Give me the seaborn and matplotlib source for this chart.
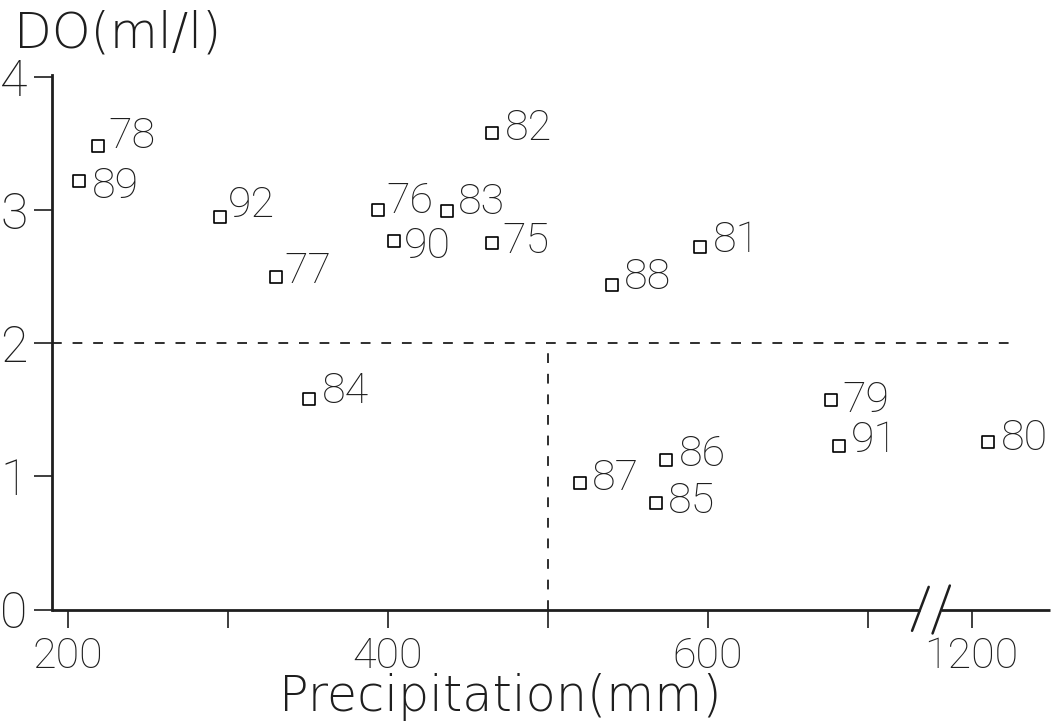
import numpy as np
import pandas as pd
import matplotlib
matplotlib.use("Agg")
import matplotlib.pyplot as plt
import seaborn as sns

# ---- data ----
years = ["78", "89", "92", "77", "76", "90", "83", "82", "75", "88", "81",
         "84", "87", "86", "85", "79", "91", "80"]
precip = [219, 207, 295, 330, 394, 404, 437, 465, 465, 540, 595,
          351, 520, 574, 568, 677, 682, 1210]
do_vals = [3.48, 3.22, 2.95, 2.50, 3.00, 2.77, 2.99, 3.58, 2.75, 2.44, 2.72,
           1.58, 0.95, 1.12, 0.80, 1.57, 1.23, 1.26]
x_ticks = [200, 300, 400, 500, 600, 700, 1200]
x_ticklabels = ["200", "", "400", "", "600", "", "1200"]
y_ticks = [0, 1, 2, 3, 4]
do_threshold = 2
precip_threshold = 500

# label placement relative to each marker (pixels right, pixels down)
label_dx = [10, 13, 8, 9, 8, 10, 11, 13, 11, 12, 13, 13, 12, 13, 12, 12, 12, 13]
label_dy = [2, 17, 0, 6, 3, 17, 3, 7, 10, 4, 5, 4, 7, 6, 10, 12, 6, 8]

df = pd.DataFrame({"year": years, "precip": precip, "do": do_vals})

# broken x axis: 738..1174 compressed to one unit
BRK_D = [0, 738, 1174, 3000]
BRK_T = [0, 738, 739, 2565]
def fwd(x):
    return np.interp(x, BRK_D, BRK_T)
def inv(x):
    return np.interp(x, BRK_T, BRK_D)

sns.set_style("ticks")
plt.rcParams["font.family"] = ["Roboto", "DejaVu Sans"]
plt.rcParams["font.weight"] = "light"
INK = "#1e1e1e"

fig = plt.figure(figsize=(10.55, 7.24), dpi=100)
W, H = 1055, 724
left_px, right_px, bot_px, top_px = 51.5, 1050, 609.5, 75
ax = fig.add_axes([left_px / W, 1 - bot_px / H,
                   (right_px - left_px) / W, (bot_px - top_px) / H])

sns.scatterplot(data=df, x="precip", y="do", marker="s", s=72,
                color="white", edgecolor="black", linewidth=1.2,
                ax=ax, zorder=3, legend=False)

ax.set_xscale("function", functions=(fwd, inv))
ax.set_xlim(190, 1249)
ax.set_ylim(0, 4.015)

PX = 72 / 100.0  # points per pixel
for xi, yi, lab, dx, dy in zip(df["precip"], df["do"], df["year"],
                               label_dx, label_dy):
    ax.annotate(lab, (xi, yi), xytext=(dx * PX, -dy * PX),
                textcoords="offset points", ha="left", va="baseline",
                fontsize=31, color=INK, fontweight="light")

dash = (0, (5.4, 6.0))
ax.hlines(do_threshold, 190, 1224, colors=INK, linewidth=1.3, linestyles=[dash])
ax.vlines(precip_threshold, 0, do_threshold, colors=INK, linewidth=1.3,
          linestyles=[dash])

# spines
for s in ["top", "right", "bottom"]:
    ax.spines[s].set_visible(False)
ax.spines["left"].set_linewidth(2.0)
ax.spines["left"].set_color(INK)

BREAK_LO, BREAK_HI = 733, 1181
ax.plot([190, BREAK_LO], [0, 0], color=INK, lw=2.0, clip_on=False,
        solid_capstyle="butt", zorder=4)
ax.plot([BREAK_HI, 1249], [0, 0], color=INK, lw=2.0, clip_on=False,
        solid_capstyle="butt", zorder=4)
# break slashes
t_lo, t_hi = fwd(BREAK_LO), fwd(BREAK_HI)
ax.plot(inv(np.array([t_lo - 5.2, t_lo + 5.2])), [-0.16, 0.17], color=INK,
        lw=1.8, clip_on=False, zorder=4)
ax.plot(inv(np.array([t_hi - 5.4, t_hi + 5.4])), [-0.18, 0.18], color=INK,
        lw=1.8, clip_on=False, zorder=4)

ax.set_xticks(x_ticks)
ax.set_xticklabels(x_ticklabels)
ax.set_yticks(y_ticks)
ax.set_yticklabels([str(v) for v in y_ticks])
ax.tick_params(axis="x", direction="out", length=13, width=1.2, pad=6,
               labelsize=31, colors=INK)
ax.tick_params(axis="y", direction="out", length=13, width=1.2, pad=4.3,
               labelsize=36, colors=INK)
for t in ax.get_xticklabels() + ax.get_yticklabels():
    t.set_fontweight("light")
ax.minorticks_off()
ax.set_xlabel("")
ax.set_ylabel("")

fig.text(14 / W, 1 - 47 / H, "DO(ml/l)", ha="left", va="baseline",
         fontsize=35.5, color=INK, family="DejaVu Sans")
fig.text(500 / W, 1 - 711 / H, "Precipitation(mm)", ha="center",
         va="baseline", fontsize=35.5, color=INK, family="DejaVu Sans")

fig.savefig("out.png", dpi=100, facecolor="white")
